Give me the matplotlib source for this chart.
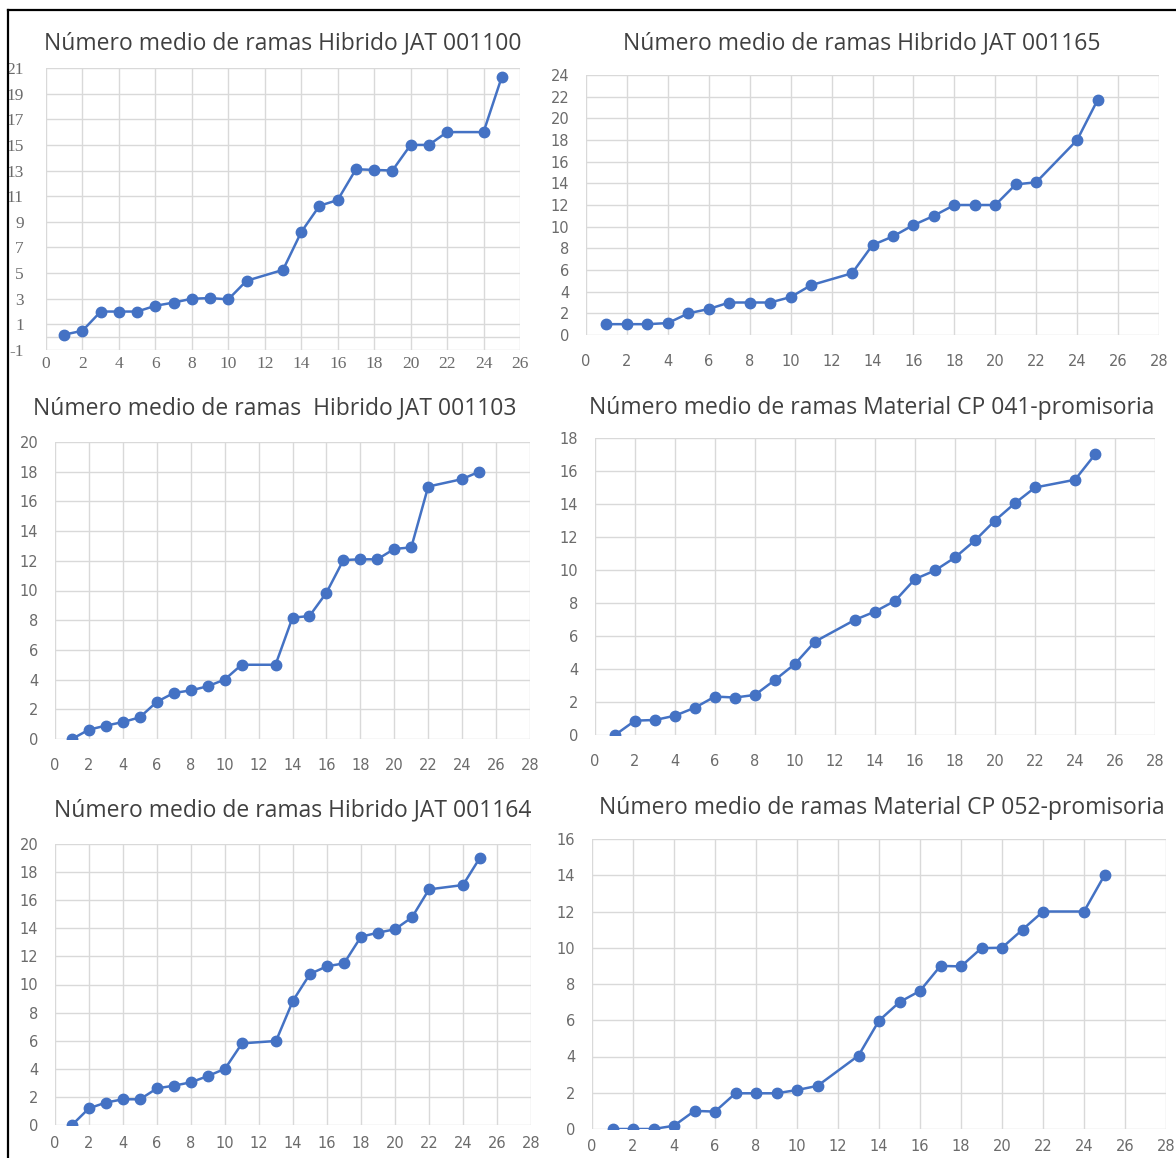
import numpy as np
import matplotlib
matplotlib.use("Agg")
import matplotlib.pyplot as plt
from matplotlib.lines import Line2D

plt.rcParams["axes.unicode_minus"] = False

W, H = 1176, 1158

# dias / observaciones (12 y 23 no medidos)
x = [1, 2, 3, 4, 5, 6, 7, 8, 9, 10, 11, 13, 14, 15, 16, 17, 18, 19, 20, 21, 22, 24, 25]

jat_001100 = [0.2, 0.5, 2.0, 2.0, 2.0, 2.45, 2.7, 3.0, 3.05, 2.95, 4.4, 5.25, 8.2, 10.25,
              10.7, 13.1, 13.05, 13.0, 15.0, 15.0, 16.0, 16.0, 20.3]
jat_001165 = [1.0, 1.0, 1.0, 1.1, 2.0, 2.4, 3.0, 3.0, 3.0, 3.5, 4.6, 5.7, 8.3, 9.1,
              10.15, 11.0, 12.0, 12.0, 12.0, 13.9, 14.1, 18.0, 21.7]
jat_001103 = [0.0, 0.63, 0.9, 1.14, 1.46, 2.5, 3.1, 3.27, 3.55, 4.0, 5.0, 5.0, 8.17, 8.28,
              9.85, 12.05, 12.1, 12.1, 12.8, 12.9, 17.0, 17.5, 18.0]
cp_041 = [0.0, 0.87, 0.91, 1.17, 1.66, 2.33, 2.27, 2.43, 3.34, 4.31, 5.66, 6.98, 7.48,
          8.13, 9.45, 9.97, 10.76, 11.79, 13.0, 14.05, 15.0, 15.47, 17.0]
jat_001164 = [0.0, 1.19, 1.6, 1.83, 1.83, 2.61, 2.8, 3.04, 3.49, 4.0, 5.81, 5.98, 8.85,
              10.75, 11.3, 11.5, 13.4, 13.69, 13.93, 14.78, 16.77, 17.08, 19.03]
cp_052 = [0.0, 0.0, 0.0, 0.18, 1.0, 0.96, 1.97, 1.97, 1.97, 2.15, 2.38, 4.05, 5.98, 7.0,
          7.62, 9.0, 8.97, 9.98, 10.0, 11.0, 12.0, 12.0, 14.0]

titles = [
    "Número medio de ramas Hibrido JAT 001100",
    "Número medio de ramas Hibrido JAT 001165",
    "Número medio de ramas  Hibrido JAT 001103",
    "Número medio de ramas Material CP 041-promisoria",
    "Número medio de ramas Hibrido JAT 001164",
    "Número medio de ramas Material CP 052-promisoria",
]
series = [jat_001100, jat_001165, jat_001103, cp_041, jat_001164, cp_052]

# plot boxes in pixels: x0, x1, ytop, ybottom
boxes = [
    (46, 520, 68, 350),
    (586, 1159, 75, 335),
    (55, 530, 442, 739),
    (595, 1155, 438, 735),
    (55, 531, 844, 1125),
    (592, 1166, 839, 1129),
]
xmax = [26, 28, 28, 28, 28, 28]
ylims = [(-1, 21), (0, 24), (0, 20), (0, 18), (0, 20), (0, 16)]
xpads = [4, 14, 14, 14, 8, 7]
title_pos = [(283, 43), (862, 43), (275, 408), (872, 408), (293, 810), (882, 808)]

blue = "#4472C4"
grid = "#D9D9D9"
tick_c = "#6b6b6b"

fig = plt.figure(figsize=(W / 100, H / 100), dpi=100)
fig.patch.set_facecolor("white")

for i in range(6):
    x0, x1, yt, yb = boxes[i]
    ax = fig.add_axes([x0 / W, 1 - yb / H, (x1 - x0) / W, (yb - yt) / H])
    ax.plot(x, series[i], color=blue, lw=1.8, marker="o", ms=7.5,
            markerfacecolor=blue, markeredgecolor=blue, zorder=3)
    lo, hi = ylims[i]
    ax.set_xlim(0, xmax[i])
    ax.set_ylim(lo, hi)
    ax.set_xticks(np.arange(0, xmax[i] + 1, 2))
    ax.set_yticks(np.arange(lo, hi + 1, 2))
    ax.grid(True, color=grid, lw=1.0)
    ax.set_axisbelow(True)
    for s in ax.spines.values():
        s.set_visible(False)
    if lo < 0:
        ax.axhline(0, color=grid, lw=1.0, zorder=1)
    ax.tick_params(length=0, colors=tick_c, labelsize=10.5)
    ax.tick_params(axis="y", pad=12)
    ax.tick_params(axis="x", pad=xpads[i])
    if i == 0:
        for lab in ax.get_xticklabels() + ax.get_yticklabels():
            lab.set_family("Liberation Serif")
            lab.set_fontsize(12.5)
        ax.tick_params(axis="y", pad=16)
    tx, ty = title_pos[i]
    fig.text(tx / W, 1 - ty / H, titles[i], ha="center", va="center",
             fontsize=16.5, color="#404040", family="Open Sans")

# marco de la imagen
fig.add_artist(Line2D([8 / W, 1], [1 - 10 / H, 1 - 10 / H], color="black", lw=1.6))
fig.add_artist(Line2D([8 / W, 8 / W], [0, 1 - 10 / H], color="black", lw=1.6))

fig.savefig("out.png", dpi=100)
